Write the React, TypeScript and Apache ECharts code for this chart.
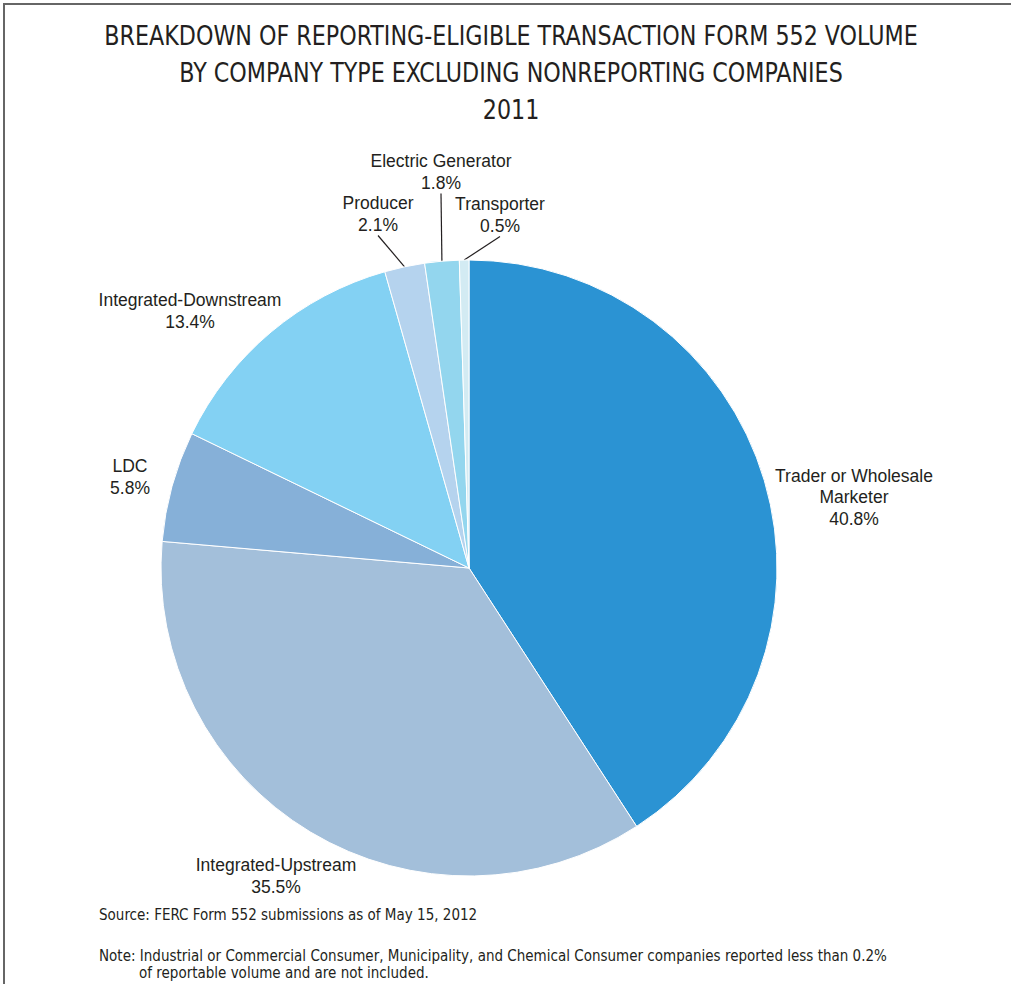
import React, { useEffect, useRef } from "react";
import * as echarts from "echarts";

const categories = [
  "Trader or Wholesale\nMarketer",
  "Integrated-Upstream",
  "LDC",
  "Integrated-Downstream",
  "Producer",
  "Electric Generator",
  "Transporter",
];
const values = [40.8, 35.5, 5.8, 13.4, 2.1, 1.8, 0.5];
const colors = ["#2B93D3", "#A3BFDA", "#86B0D8", "#83D1F3", "#B5D3EE", "#93D6EE", "#D3EBF3"];
const titleLines = [
  "BREAKDOWN OF REPORTING-ELIGIBLE TRANSACTION FORM 552 VOLUME",
  "BY COMPANY TYPE EXCLUDING NONREPORTING COMPANIES",
  "2011",
];
const sourceText = "Source: FERC Form 552 submissions as of May 15, 2012";
const noteLine1 =
  "Note: Industrial or Commercial Consumer, Municipality, and Chemical Consumer companies reported less than 0.2%";
const noteLine2 = "of reportable volume and are not included.";

// label anchor positions (center of label block)
const labelPos: [number, number][] = [
  [854, 497],
  [276, 876],
  [130, 477],
  [190, 311],
  [378, 214],
  [441, 172],
  [500, 215],
];
const withLine = [false, false, false, false, true, true, true];

const narrow = "'Liberation Sans Narrow', 'DejaVu Sans Condensed', 'Arial Narrow', sans-serif";
const sans = "'Liberation Sans', Arial, sans-serif";

export default function App() {
  const ref = useRef<HTMLDivElement>(null);
  useEffect(() => {
    const chart = echarts.init(ref.current!, null, { renderer: "svg" });
    chart.setOption({
      animation: false,
      backgroundColor: "#ffffff",
      graphic: [
        { type: "line", shape: { x1: 3, y1: 4, x2: 1011, y2: 4 }, style: { stroke: "#666", lineWidth: 2 } },
        { type: "line", shape: { x1: 4, y1: 3, x2: 4, y2: 984 }, style: { stroke: "#666", lineWidth: 2 } },
        ...titleLines.map((t, i) => ({
          type: "text",
          x: 511,
          y: [36, 73, 110][i],
          scaleX: 0.915,
          style: {
            text: t,
            fill: "#231F20",
            font: `27px ${narrow}`,
            align: "center",
            verticalAlign: "middle",
          },
        })),
        {
          type: "text",
          x: 99,
          y: 915,
          style: { text: sourceText, fill: "#231F20", font: `15px ${narrow}`, verticalAlign: "middle" },
        },
        {
          type: "text",
          x: 99,
          y: 956,
          style: { text: noteLine1, fill: "#231F20", font: `15px ${narrow}`, verticalAlign: "middle" },
        },
        {
          type: "text",
          x: 139,
          y: 973,
          style: { text: noteLine2, fill: "#231F20", font: `15px ${narrow}`, verticalAlign: "middle" },
        },
      ],
      series: [
        {
          type: "pie",
          center: [469, 568],
          radius: 308,
          startAngle: 90,
          clockwise: true,
          avoidLabelOverlap: false,
          itemStyle: { borderColor: "#ffffff", borderWidth: 1 },
          label: {
            show: true,
            position: "outside",
            formatter: (p: any) => `${p.name}\n${values[p.dataIndex].toFixed(1)}%`,
            color: "#231F20",
            fontSize: 17.5,
            fontFamily: sans,
            lineHeight: 21.5,
            align: "center",
          },
          labelLine: { show: true, lineStyle: { color: "#231F20", width: 1.2 }, length: 20, length2: 0 },
          labelLayout: (p: any) => {
            const pos = labelPos[p.dataIndex];
            return { x: pos[0], y: pos[1], align: "center", verticalAlign: "middle" };
          },
          data: categories.map((c, i) => ({
            name: c,
            value: values[i],
            itemStyle: { color: colors[i] },
            labelLine: { show: withLine[i] },
          })),
        },
      ],
    });
    return () => chart.dispose();
  }, []);
  return <div ref={ref} style={{ position: "fixed", left: 0, top: 0, width: 1011, height: 984 }} />;
}
